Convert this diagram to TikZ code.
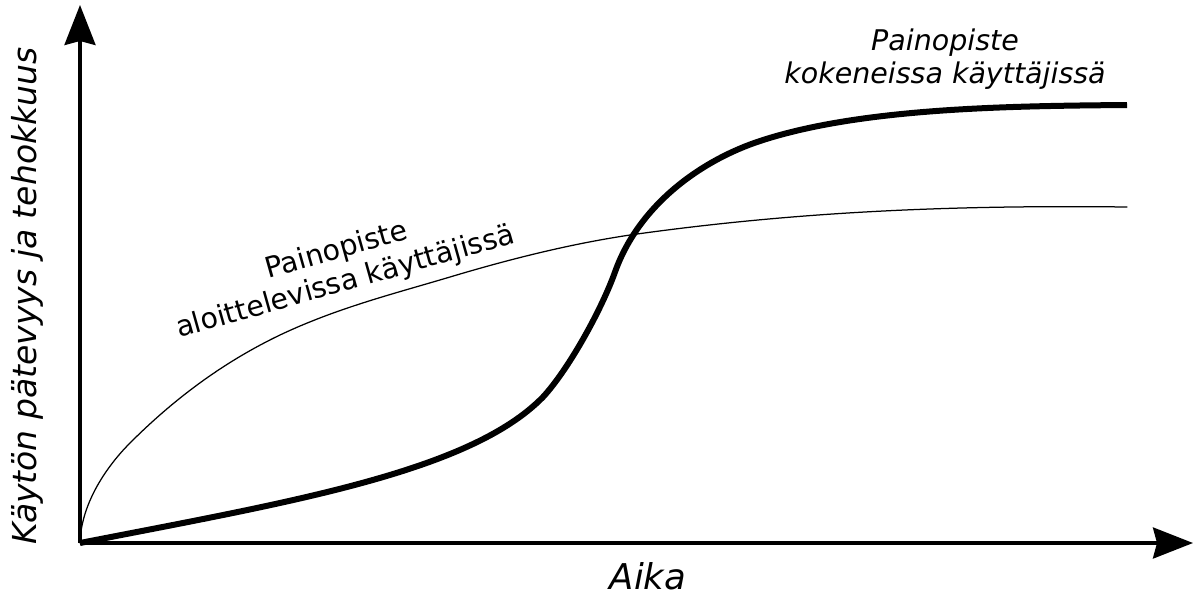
\documentclass[tikz,border=0pt]{standalone}
\usepackage{fontspec}
\setmainfont{DejaVu Sans}
\usetikzlibrary{arrows.meta}
\begin{document}
\begin{tikzpicture}[x=1pt,y=-1pt,
  axisline/.style={line width=3.4pt,-{Stealth[length=40pt,width=31pt,inset=4pt]}},
  thickcurve/.style={line width=6pt,line cap=butt,line join=round},
  thincurve/.style={line width=1.25pt,line cap=round},
  axislabel/.style={font=\fontsize{33}{40}\selectfont\itshape,inner sep=0pt},
  curvelabel/.style={align=center,inner sep=0pt,font=\fontsize{28.5}{33}\selectfont}]
\useasboundingbox (0,0) rectangle (1194,598);
\fill[white] (0,0) rectangle (1194,598);
\coordinate (O) at (80,543);
\coordinate (ytip) at (80,5);
\coordinate (xtip) at (1193,543);
% curves
\draw[thincurve] (O)
  .. controls (81,505) and (105,468) .. (130,443)
  .. controls (180,393) and (230,359) .. (280,335)
  .. controls (337,308) and (393,294) .. (450,277)
  .. controls (510,259) and (570,244) .. (630,235)
  .. controls (800,211) and (957,205) .. (1127,207);
\draw[thickcurve] (O)
  .. controls (290,502) and (470,472) .. (543,397)
  .. controls (568,370) and (601,311) .. (615,272)
  .. controls (640,202) and (705,159) .. (760,141)
  .. controls (860,108) and (1007,106) .. (1127,105);
% axes
\draw[axisline] (O) -- (ytip);
\draw[axisline] (O) -- (xtip);
% labels
\node[axislabel,font=\fontsize{35.5}{40}\selectfont\itshape,anchor=base] (xlab) at (648,589) {Aika};
\node[axislabel,rotate=90] (ylab) at (27,296) {Käytön pätevyys ja tehokkuus};
\node[curvelabel,font=\fontsize{28.5}{33}\selectfont\itshape] (explab) at (945,59) {Painopiste\\kokeneissa käyttäjissä};
\node[curvelabel,rotate=15.7] (novlab) at (341,267) {Painopiste\\aloittelevissa käyttäjissä};
\end{tikzpicture}
\end{document}
